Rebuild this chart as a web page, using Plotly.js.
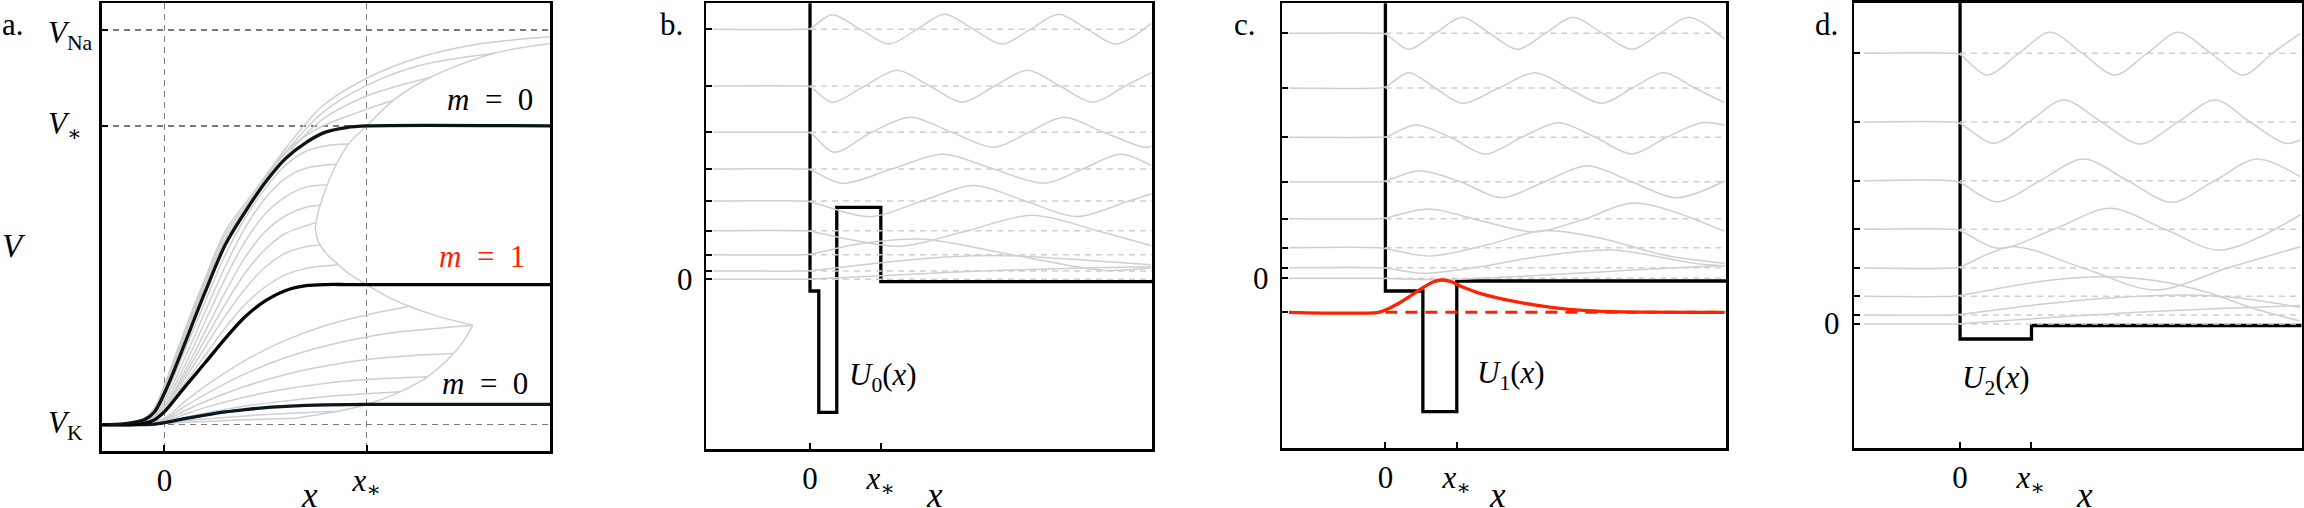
<!DOCTYPE html>
<html>
<head>
<meta charset="utf-8">
<script src="https://cdn.plot.ly/plotly-3.0.1.min.js"></script>
<style>
  body { margin: 0; background: #fff; }
  #plot { width: 2304px; height: 508px; }
</style>
</head>
<body>
<div id="plot"></div>
<script>
// ---------- panel a : voltage profiles ----------
const aXticks = [0, 10];
const aXtext = ['0', '<i>x</i><sub>∗</sub>'];
const aYticks = [0, 75.7, 100];
const aYtext = ['<i>V</i><sub>K</sub>', '<i>V</i><sub>∗</sub>', '<i>V</i><sub>Na</sub>'];

const aV0x = [-3.1, -2, -1, -0.5, 0, 0.5, 1, 2, 3, 4, 5, 6, 7, 8, 9, 10, 19.07];
const aV0y = [0, 0.2, 1.2, 3.2, 8, 14, 20.5, 33.5, 45.5, 54, 61.5, 67.5, 71.5, 74.2, 75.3, 75.7, 75.7];
const aV1x = [-3.1, -1.5, -1, -0.5, 0, 0.5, 1, 2, 3, 4, 5, 6, 7, 8, 9, 10, 19.07];
const aV1y = [0, 0, 0.3, 1.2, 3.3, 6.3, 9.5, 15.6, 21.8, 27.4, 31.4, 34, 35.2, 35.5, 35.5, 35.5, 35.5];
const aV2x = [-3.1, -1, -0.5, 0, 1, 2, 3, 4, 5, 6, 7, 8, 10, 19.07];
const aV2y = [0, 0, 0.1, 0.5, 1.5, 2.4, 3.2, 3.8, 4.3, 4.6, 4.85, 5.0, 5.1, 5.1];

// grey family: curves above V0, between V0 and V1, between V1 and V2, below V2
const aGreyX = [
  [-3.1, -2, -1, -0.5, 0, 0.5, 1, 2, 3, 4.5, 6.2, 7.8, 10, 12.75, 15.55, 19.07],
  [-3.1, -2, -1, -0.5, 0, 0.5, 1, 2, 3, 4.5, 6.2, 7.8, 10, 12.75, 16.26],
  [-3.1, -2, -1, -0.5, 0, 0.5, 1, 2, 3, 4.5, 6.2, 7.8, 10, 13.13],
  [-3.1, -2, -1, -0.5, 0, 0.5, 1, 2, 3, 4.5, 5.5, 6.5, 7.8, 9.45, 11.32],
  [-3.1, -2, -1, 0, 1, 2, 3, 4, 5, 6, 7, 8, 9.1],
  [-3.1, -2, -1, 0, 1, 2, 3, 4, 5, 6, 7, 8.5],
  [-3.1, -2, -1, 0, 1, 2, 3, 4, 5, 6, 7, 8.05],
  [-3.1, -2, -1, 0, 1, 2, 3, 4, 5, 6, 7, 7.7],
  [-3.1, -2, -1, 0, 1, 2, 3, 4, 5, 6, 7, 7.5],
  [-3.1, -2, -1, 0, 1, 2, 3, 4, 5, 6, 7, 7.73],
  [-3.1, -2, -1, 0, 1, 2, 3, 4, 5, 6, 7, 8.6],
  [-3.1, -1, 0, 1, 2, 4, 6, 8, 10, 12.1],
  [-3.1, -1, 0, 1, 2, 4, 6, 8, 10, 12, 15.25],
  [-3.1, -1, 0, 1, 2, 4, 6, 8, 10, 12, 14.3],
  [-3.1, -1, 0, 1, 2, 4, 6, 8, 10, 13.0],
  [-3.1, -1, 0, 1, 2, 4, 6, 8, 10, 11.65],
  [-3.1, -1, 0, 2, 4, 6, 8.5],
  [-3.1, -1, 0, 2, 4, 6.5]
];
const aGreyY = [
  [0, 0.3, 1.6, 4.2, 10, 17, 24, 37, 49, 59.5, 71.4, 80.7, 87.8, 93.3, 96.5, 98.3],
  [0, 0.3, 1.5, 4, 9.7, 16.5, 23.5, 36.3, 48, 58.8, 70.3, 79, 86, 91.2, 94.1],
  [0, 0.3, 1.4, 3.8, 9.4, 16, 23, 35.6, 47, 58.2, 69.3, 77.3, 83.3, 88.0],
  [0, 0.25, 1.3, 3.6, 9, 15.4, 22.3, 35, 46.3, 58, 66.3, 71.4, 75.6, 78.9, 82.2],
  [0, 0.2, 1.1, 7.2, 18.8, 31, 43, 52.5, 60, 65.8, 69.3, 70.7, 71.1],
  [0, 0.2, 1, 6.3, 16.8, 28.5, 40, 50, 57.5, 62.5, 65, 66],
  [0, 0.15, 0.9, 5.5, 15, 26, 37, 46.5, 53.5, 57.8, 60.2, 60.8],
  [0, 0.1, 0.8, 4.8, 13.5, 23.5, 33.5, 42.5, 49, 53, 55.1, 55.6],
  [0, 0.1, 0.7, 4.3, 12.5, 21.5, 30.5, 38.5, 44.5, 48.5, 50.4, 51.2],
  [0, 0.1, 0.6, 3.9, 11.5, 19.5, 27.5, 34.5, 40, 43.5, 45.1, 45.5],
  [0, 0.1, 0.5, 3.6, 10.5, 17.5, 24.5, 30.5, 35, 38, 39.6, 40.5],
  [0, 0.1, 1.6, 5.8, 9.7, 16.3, 21.4, 25.2, 27.8, 30.0],
  [0, 0.1, 1.3, 4.6, 7.6, 12.9, 17, 20, 22.2, 23.7, 25.2],
  [0, 0.1, 1.0, 3.5, 5.8, 9.7, 12.7, 14.9, 16.5, 17.4, 18.0],
  [0, 0.05, 0.8, 2.6, 4.3, 7.0, 9.0, 10.5, 11.4, 12.1],
  [0, 0.05, 0.6, 1.8, 2.9, 4.7, 6.0, 7.1, 7.8, 8.3],
  [0, 0.05, 0.4, 1.4, 2.2, 2.8, 3.3],
  [0, 0.03, 0.25, 0.8, 1.2, 1.6]
];
// envelope of end points
const aEnvX = [15.25, 13.5, 12.1, 11, 10, 9.2, 8.6, 8.0, 7.6, 7.47, 7.5, 7.7, 8.05, 8.5, 9.1, 10, 11.32, 13.13, 16.26, 19.07];
const aEnvY = [25.2, 27.5, 30.0, 32.5, 35.5, 38, 40.5, 43.4, 46.5, 49.5, 51.5, 55.6, 60.8, 66, 71.1, 75.7, 82.2, 88.0, 94.1, 96.6];
const aWingX = [15.25, 14.9, 14.3, 13.0, 11.65, 10, 8.5, 6.5];
const aWingY = [25.2, 22.0, 18.0, 12.1, 8.3, 5.1, 3.3, 1.6];

// ---------- panel b : U0 ----------
const bE = [25.24, 19.57, 14.94, 11.27, 8.07, 5.1, 2.7, 1.07, 0.24];
const bUx = [0, 0, 0.124, 0.124, 0.378, 0.378, 1.0, 1.0, 4.83];
const bUy = [29, -0.93, -0.93, -13.06, -13.06, 7.44, 7.44, 0, 0];
const bWx = [
  [-1.37, -0.1, 0, 0.31, 0.71, 1.12, 1.51, 1.9, 2.31, 2.71, 3.11, 3.51, 3.92, 4.32, 4.82],
  [-1.37, -0.1, 0, 0.31, 0.77, 1.23, 1.69, 2.15, 2.61, 3.07, 3.53, 3.99, 4.45, 4.82],
  [-1.37, -0.1, 0, 0.335, 0.87, 1.416, 2.0, 2.604, 3.09, 3.577, 4.15, 4.713, 4.82],
  [-1.37, -0.1, 0, 0.443, 1.16, 1.875, 2.59, 3.308, 3.85, 4.389, 4.82],
  [-1.37, -0.1, 0, 0.85, 1.58, 2.31, 3.04, 3.77, 4.5, 4.82],
  [-1.37, -0.1, 0, 0.5, 1.3, 2.22, 3.14, 4.06, 4.82],
  [-1.37, -0.1, 0, 0.7, 1.6, 2.85, 4.13, 4.82],
  [-1.37, -0.1, 0, 1, 2, 2.8, 3.6, 4.82],
  [-1.37, -0.1, 0, 1, 2, 3, 4, 4.82]
];
const bWy = [
  [25.24, 25.24, 25.3, 26.7, 25.24, 23.77, 25.24, 26.75, 25.24, 23.77, 25.24, 26.75, 25.24, 23.77, 25.84],
  [19.57, 19.57, 19.5, 17.95, 19.57, 21.15, 19.57, 17.95, 19.57, 21.15, 19.57, 17.95, 19.57, 20.9],
  [14.94, 14.94, 14.9, 12.95, 14.94, 16.45, 14.94, 13.45, 14.94, 16.45, 14.94, 13.45, 13.55],
  [11.27, 11.27, 11.2, 9.84, 11.27, 12.75, 11.27, 9.85, 11.27, 12.75, 11.6],
  [8.07, 8.07, 8.0, 6.5, 8.07, 9.62, 8.07, 6.52, 8.07, 8.8],
  [5.1, 5.1, 5.05, 4.3, 3.55, 5.1, 6.65, 5.1, 3.6],
  [2.7, 2.7, 2.75, 3.8, 4.25, 2.7, 1.15, 1.4],
  [1.07, 1.07, 1.1, 1.9, 2.5, 2.6, 2.3, 1.7],
  [0.24, 0.24, 0.26, 0.6, 0.95, 1.2, 1.4, 1.5]
];

// ---------- panel c : U1 with bound state ----------
const cE = [24.77, 19.3, 14.37, 9.93, 6.23, 3.33, 1.33, 0.27];
const cBound = -3.13;
const cUx = [0, 0, 0.525, 0.525, 1.0, 1.0, 4.78];
const cUy = [29, -1.0, -1.0, -13.07, -13.07, 0, 0];
const cWx = [
  [-1.35, -0.1, 0, 0.325, 0.7, 1.075, 1.46, 1.851, 2.24, 2.627, 3.04, 3.452, 3.85, 4.252, 4.752],
  [-1.35, -0.1, 0, 0.325, 0.7, 1.075, 1.59, 2.1, 2.56, 3.026, 3.46, 3.9, 4.33, 4.752],
  [-1.35, -0.1, 0, 0.425, 0.91, 1.401, 1.91, 2.426, 2.94, 3.452, 3.94, 4.427, 4.752],
  [-1.35, -0.1, 0, 0.475, 1.05, 1.626, 2.23, 2.826, 3.45, 4.077, 4.752],
  [-1.35, -0.1, 0, 0.6, 1.35, 2.1, 2.8, 3.5, 4.752],
  [-1.35, -0.1, 0, 0.625, 1.42, 2.2, 3.0, 3.9, 4.752],
  [-1.35, -0.1, 0, 0.518, 1.3, 2.2, 3.18, 4.32, 4.752],
  [-1.35, -0.1, 0, 0.9, 2, 3, 4, 4.752]
];
const cWy = [
  [24.77, 24.77, 24.7, 23.17, 24.77, 26.37, 24.77, 23.17, 24.77, 26.37, 24.77, 23.17, 24.77, 26.37, 24.17],
  [19.3, 19.3, 19.4, 20.83, 19.3, 17.77, 19.3, 20.83, 19.3, 17.77, 19.3, 20.83, 19.3, 17.83],
  [14.37, 14.37, 14.4, 15.6, 14.37, 12.7, 14.37, 15.83, 14.37, 12.7, 14.37, 15.83, 15.6],
  [9.93, 9.93, 10.0, 11.03, 9.93, 8.33, 9.93, 11.53, 9.93, 8.33, 10.0],
  [6.23, 6.23, 6.3, 7.2, 6.0, 4.9, 6.23, 7.8, 4.95],
  [3.33, 3.33, 3.25, 2.5, 3.6, 5.03, 4.3, 2.6, 1.77],
  [1.33, 1.33, 1.3, 0.77, 1.4, 2.5, 3.1, 1.77, 1.5],
  [0.27, 0.27, 0.25, 0.15, 0.5, 0.9, 1.3, 1.55]
];
const cRedX = [-1.35, -0.1, 0, 0.224, 0.475, 0.675, 0.79, 0.924, 1.074, 1.325, 1.825, 2.325, 2.82, 3.33, 4.75];
const cRedY = [-3.13, -3.13, -2.9, -2.07, -0.9, -0.07, 0.1, -0.07, -0.57, -1.23, -2.07, -2.63, -2.97, -3.09, -3.13];

// ---------- panel d : U2 ----------
const dE = [27.22, 20.35, 14.48, 9.62, 5.75, 2.92, 1.05, 0.15];
const dUx = [0, 0, 1.01, 1.01, 4.83];
const dUy = [33, -1.35, -1.35, 0, 0];
const dWx = [
  [-1.36, -0.1, 0, 0.377, 0.83, 1.273, 1.73, 2.192, 2.64, 3.088, 3.55, 4.008, 4.41, 4.809],
  [-1.36, -0.1, 0, 0.471, 0.97, 1.462, 2.0, 2.546, 3.08, 3.607, 4.1, 4.597, 4.809],
  [-1.36, -0.1, 0, 0.519, 1.13, 1.744, 2.37, 2.994, 3.6, 4.196, 4.809],
  [-1.36, -0.1, 0, 0.542, 1.33, 2.122, 2.9, 3.678, 4.809],
  [-1.36, -0.1, 0, 0.731, 1.74, 2.758, 3.78, 4.809],
  [-1.36, -0.1, 0, 0.7, 1.3, 2.05, 2.8, 3.5, 4.15, 4.809],
  [-1.36, -0.1, 0, 1, 2, 3.2, 4.0, 4.809],
  [-1.36, -0.1, 0, 1.5, 3, 4.809]
];
const dWy = [
  [27.22, 27.22, 27.1, 25.05, 27.2, 29.32, 27.2, 25.05, 27.2, 29.32, 27.2, 25.05, 27.2, 29.22],
  [20.35, 20.35, 20.2, 18.22, 20.35, 22.55, 20.35, 18.15, 20.35, 22.55, 20.35, 18.22, 18.55],
  [14.48, 14.48, 14.3, 12.38, 14.48, 16.65, 14.48, 12.32, 14.48, 16.65, 14.88],
  [9.62, 9.62, 9.5, 7.72, 9.62, 11.72, 9.62, 7.55, 11.05],
  [5.75, 5.75, 5.85, 7.88, 5.75, 3.55, 5.75, 7.88],
  [2.92, 2.92, 3.0, 3.9, 4.55, 4.88, 4.45, 3.3, 1.7, 0.45],
  [1.05, 1.05, 1.1, 2.0, 2.7, 3.05, 2.7, 1.8],
  [0.15, 0.15, 0.18, 0.9, 1.5, 2.0]
];

// ---------- helpers ----------
const GREY = '#cfcfcf';
const FONT = 'Liberation Serif, DejaVu Serif, serif';
const traces = [];

function line(ax, xs, ys, color, width, opts) {
  opts = opts || {};
  traces.push({
    x: xs, y: ys, xaxis: 'x' + ax, yaxis: 'y' + ax,
    mode: 'lines', type: 'scatter', hoverinfo: 'skip',
    line: {color: color, width: width, dash: opts.dash || 'solid',
           shape: opts.spline ? 'spline' : 'linear', smoothing: 0.9}
  });
}

// panel a
aGreyX.forEach((xs, i) => line('', xs, aGreyY[i], GREY, 1.5, {spline: true}));
line('', aEnvX, aEnvY, GREY, 1.5, {spline: true});
line('', aWingX, aWingY, GREY, 1.5, {spline: true});
line('', aV2x, aV2y, '#0b1820', 3.3, {spline: true});
line('', aV1x, aV1y, '#050505', 3.3, {spline: true});
line('', aV0x, aV0y, '#0b1416', 3.3, {spline: true});

// panels b, c, d
function wavePanel(ax, E, Ux, Uy, Wx, Wy, xEnd) {
  line(ax, Ux, Uy, '#000', 3.3);
  E.forEach(e => line(ax, [0, xEnd], [e, e], GREY, 1.5, {dash: '6px,5px'}));
  Wx.forEach((xs, i) => line(ax, xs, Wy[i], GREY, 1.5, {spline: true}));
}
wavePanel('2', bE, bUx, bUy, bWx, bWy, 4.83);
wavePanel('3', cE, cUx, cUy, cWx, cWy, 4.78);
wavePanel('4', dE, dUx, dUy, dWx, dWy, 4.83);
line('3', [0, 4.78], [cBound, cBound], '#ff2200', 3, {dash: '12px,8px'});
line('3', cRedX, cRedY, '#ff2200', 3.3, {spline: true});

// ---------- axes ----------
const tickFont = {family: FONT, size: 31, color: '#000'};
function frame(domain, range, vals, text, grid) {
  return {
    domain: domain, range: range, showline: true, mirror: true,
    linecolor: '#000', linewidth: 2.5, ticks: 'inside', ticklen: 6,
    tickwidth: 2, tickcolor: '#000', tickmode: 'array', tickvals: vals,
    ticktext: text, showticklabels: !!text, tickfont: tickFont, zeroline: false,
    showgrid: !!grid, gridcolor: '#7a7a7a', gridwidth: 1.5, griddash: '6px,5px',
    fixedrange: true
  };
}
const xStarText = ['0', '<i>x</i><sub>∗</sub>'];

const layout = {
  width: 2304, height: 508,
  margin: {l: 0, r: 0, t: 0, b: 0},
  paper_bgcolor: '#fff', plot_bgcolor: '#fff',
  showlegend: false,
  font: {family: FONT, color: '#000'},
  xaxis: frame([0.04414, 0.23872], [-3.106, 19.07], aXticks, aXtext, true),
  yaxis: frame([0.1122, 0.9935], [-6.7, 106.8], aYticks, null, true),
  xaxis2: frame([0.30655, 0.5], [-1.465, 4.83], [0, 1], xStarText),
  yaxis2: frame([0.11555, 0.9935], [-16.76, 27.84], bE, null),
  xaxis3: frame([0.55664, 0.74931], [-1.441, 4.776], [0, 1], xStarText),
  yaxis3: frame([0.11752, 0.9935], [-16.73, 27.77], cE.concat([cBound]), null),
  xaxis4: frame([0.80482, 0.999], [-1.495, 4.83], [0, 1], xStarText),
  yaxis4: frame([0.11752, 0.9941], [-12.28, 32.25], dE, null),
  annotations: []
};
layout.yaxis2.anchor = 'x2'; layout.xaxis2.anchor = 'y2';
layout.yaxis3.anchor = 'x3'; layout.xaxis3.anchor = 'y3';
layout.yaxis4.anchor = 'x4'; layout.xaxis4.anchor = 'y4';

function note(text, x, y, xref, yref, size, opts) {
  opts = opts || {};
  layout.annotations.push(Object.assign({
    text: text, x: x, y: y, xref: xref, yref: yref, showarrow: false,
    font: {family: FONT, size: size, color: opts.color || '#000'},
    xanchor: 'center', yanchor: 'middle'
  }, opts.extra || {}));
}
// panel letters
note('a.', 0.0, 0.951, 'paper', 'paper', 31, {extra: {xanchor: 'left'}});
note('b.', 0.2854, 0.951, 'paper', 'paper', 31, {extra: {xanchor: 'left'}});
note('c.', 0.5346, 0.951, 'paper', 'paper', 31, {extra: {xanchor: 'left'}});
note('d.', 0.7868, 0.951, 'paper', 'paper', 31, {extra: {xanchor: 'left'}});
// panel a voltage labels, left aligned as in the figure
aYticks.forEach((v, i) =>
  note(aYtext[i], 0.02, v, 'paper', 'y', 31, {extra: {xanchor: 'left', yshift: v === 100 ? -5 : 0}}));
// axis titles
note('<i>V</i>', 0.0062, 0.5157, 'paper', 'paper', 33);
[309, 934, 1497, 2084].forEach(px =>
  note('<i>x</i>', px / 2304, 0, 'paper', 'paper', 35, {extra: {yanchor: 'bottom', yshift: -9}}));
// zero labels on the energy axes
note('0', 0.30165, bE[bE.length - 1], 'paper', 'y2', 31, {extra: {xanchor: 'right'}});
note('0', 0.55165, cE[cE.length - 1], 'paper', 'y3', 31, {extra: {xanchor: 'right'}});
note('0', 0.79935, dE[dE.length - 1], 'paper', 'y4', 31, {extra: {xanchor: 'right'}});
// panel a labels
note('<i>V</i><sub>0</sub>(<i>x</i>)', 19.9, 75.7, 'x', 'y', 31, {extra: {xanchor: 'left'}});
note('<i>V</i><sub>1</sub>(<i>x</i>)', 19.9, 35.5, 'x', 'y', 31, {extra: {xanchor: 'left'}});
note('<i>V</i><sub>2</sub>(<i>x</i>)', 19.9, 5.1, 'x', 'y', 31, {extra: {xanchor: 'left'}});
note('<i>m</i>\u2002=\u20020', 16.1, 82.5, 'x', 'y', 31);
note('<i>m</i>\u2002=\u20021', 15.7, 42.7, 'x', 'y', 31, {color: '#ff2200'});
note('<i>m</i>\u2002=\u20020', 15.85, 10.5, 'x', 'y', 31);
// potential labels
note('<i>U</i><sub>0</sub>(<i>x</i>)', 0.52, -9.53, 'x2', 'y2', 31, {extra: {xanchor: 'left'}});
note('<i>U</i><sub>1</sub>(<i>x</i>)', 1.25, -9.4, 'x3', 'y3', 31, {extra: {xanchor: 'left'}});
note('<i>U</i><sub>2</sub>(<i>x</i>)', 0.0, -5.45, 'x4', 'y4', 31, {extra: {xanchor: 'left'}});

Plotly.newPlot('plot', traces, layout, {staticPlot: true});
</script>
</body>
</html>
